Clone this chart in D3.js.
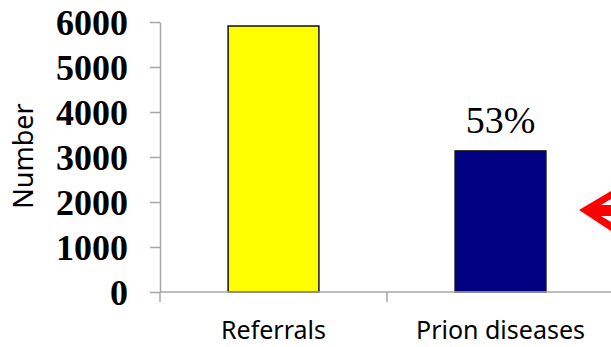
<!DOCTYPE html>
<html>
<head>
<meta charset="utf-8">
<script src="https://cdn.jsdelivr.net/npm/d3@7"></script>
<style>
  html, body { margin: 0; padding: 0; background: #fff; }
  svg { display: block; }
</style>
</head>
<body>
<svg id="chart" width="611" height="347"></svg>
<script>
// Referrals vs. confirmed prion disease cases
const categories = ["Referrals", "Prion diseases"];
const counts = [5911, 3135];
const barColors = ["#FFFF00", "#000080"];
const yTicks = [0, 1000, 2000, 3000, 4000, 5000, 6000];
const percentLabel = "53%";
const yTitle = "Number";

const svg = d3.select("#chart");
const axisColor = "#a6a6a6";

const x = d3.scaleBand().domain(categories).range([160, 614]).padding(0);
const y = d3.scaleLinear().domain([0, 6000]).range([292, 22]);
const barWidth = x.bandwidth() * 0.4;

// Bars
svg.append("g").selectAll("rect")
  .data(categories)
  .join("rect")
  .attr("x", (d) => x(d) + (x.bandwidth() - barWidth) / 2)
  .attr("y", (d, i) => y(counts[i]))
  .attr("width", barWidth)
  .attr("height", (d, i) => y(0) - y(counts[i]))
  .attr("fill", (d, i) => barColors[i])
  .attr("stroke", "#111")
  .attr("stroke-width", 1.5);

// Y axis
const yAxis = svg.append("g")
  .attr("transform", "translate(160,0)")
  .call(d3.axisLeft(y).tickValues(yTicks).tickSize(10).tickSizeOuter(0).tickPadding(22).tickFormat(d3.format("d")));
yAxis.select(".domain").attr("stroke", axisColor).attr("stroke-width", 1.5);
yAxis.selectAll(".tick line").attr("stroke", axisColor).attr("stroke-width", 1.5);
yAxis.selectAll(".tick text")
  .attr("fill", "#000")
  .style("font-family", "'Liberation Serif', serif")
  .style("font-weight", "bold")
  .style("font-size", "36px")
  .attr("dy", "0.34em");

// X axis line and category separators
svg.append("line")
  .attr("x1", 160).attr("x2", 611)
  .attr("y1", y(0)).attr("y2", y(0))
  .attr("stroke", axisColor).attr("stroke-width", 1.5);
svg.append("g").selectAll("line")
  .data(categories)
  .join("line")
  .attr("x1", (d) => x(d)).attr("x2", (d) => x(d))
  .attr("y1", y(0)).attr("y2", y(0) + 10)
  .attr("stroke", axisColor).attr("stroke-width", 1.5);

// Category labels
svg.append("g").selectAll("text")
  .data(categories)
  .join("text")
  .attr("x", (d) => x(d) + x.bandwidth() / 2)
  .attr("y", 339)
  .attr("text-anchor", "middle")
  .style("font-family", "'Noto Sans', sans-serif")
  .style("font-size", "25px")
  .text((d) => d);

// Percentage label above the second bar
svg.append("text")
  .attr("x", x(categories[1]) + x.bandwidth() / 2)
  .attr("y", y(counts[1]) - 18)
  .attr("text-anchor", "middle")
  .style("font-family", "'Liberation Serif', serif")
  .style("font-size", "38px")
  .text(percentLabel);

// Y axis title
svg.append("text")
  .attr("transform", "translate(33,156) rotate(-90)")
  .attr("text-anchor", "middle")
  .style("font-family", "'Noto Sans', sans-serif")
  .style("font-size", "27px")
  .text(yTitle);

// Red pointer arrow at the right edge
const arrowPts = [[579, 210], [611, 191], [611, 199], [601, 205], [611, 205], [611, 216], [601, 216], [611, 222], [611, 231]];
svg.append("path")
  .attr("d", d3.line()(arrowPts) + "Z")
  .attr("fill", "#ff0000");
</script>
</body>
</html>
